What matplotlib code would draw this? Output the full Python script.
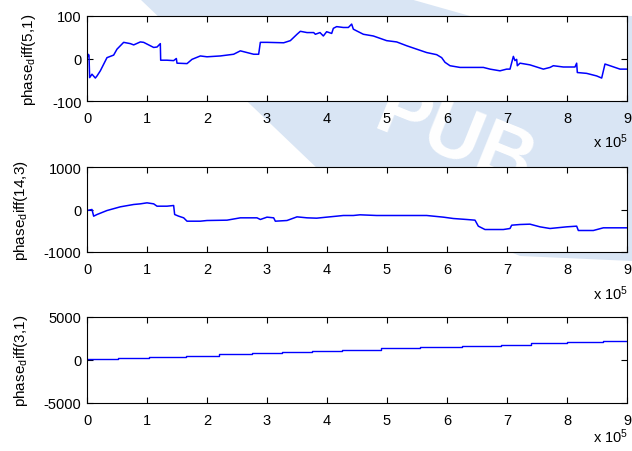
import matplotlib
matplotlib.use("Agg")
import matplotlib.pyplot as plt
from matplotlib.patches import Polygon
import numpy as np

plt.rcParams['font.family'] = ['Liberation Sans', 'DejaVu Sans']
plt.rcParams['mathtext.fontset'] = 'custom'
plt.rcParams['mathtext.rm'] = 'Liberation Sans'
plt.rcParams['mathtext.it'] = 'Liberation Sans:italic'

# ---- data (x in units of 1e5 samples) ----
x1 = [0, 0.017, 0.033, 0.044, 0.083, 0.139, 0.167, 0.222, 0.333, 0.444, 0.5, 0.611, 0.722, 0.778,
      0.889, 0.944, 1.111, 1.167, 1.222, 1.228, 1.333, 1.444, 1.489, 1.5, 1.667, 1.75, 1.889, 2.0,
      2.222, 2.444, 2.556, 2.667, 2.778, 2.861, 2.889, 3.0, 3.278, 3.389, 3.5, 3.556, 3.667, 3.778,
      3.806, 3.883, 3.939, 3.994, 4.078, 4.106, 4.161, 4.272, 4.356, 4.411, 4.439, 4.494, 4.606,
      4.772, 4.994, 5.161, 5.328, 5.494, 5.661, 5.828, 5.911, 5.967, 6.05, 6.217, 6.383, 6.606,
      6.717, 6.883, 6.994, 7.05, 7.106, 7.133, 7.161, 7.172, 7.217, 7.383, 7.606, 7.717, 7.772,
      7.939, 8.133, 8.161, 8.172, 8.328, 8.494, 8.578, 8.633, 8.717, 8.883, 8.994]
y1 = [0, 10, 8, -45, -37, -46, -41, -29, 2, 8, 22, 38, 35, 32,
      39, 38, 26, 27, 35, -4, -4, -5, 0, -11, -12, -2, 6, 4,
      6, 10, 18, 14, 10, 10, 38, 38, 37, 42, 57, 64, 61, 61,
      57, 61, 53, 63, 59, 71, 75, 73, 73, 81, 69, 65, 57,
      53, 42, 39, 30, 22, 14, 9, 2, -9, -17, -21, -21, -21,
      -25, -29, -25, -25, 5, -5, -2, -17, -11, -15, -25, -21, -17,
      -20, -20, -11, -33, -35, -41, -46, -13, -17, -25, -25]

x2 = [0, 0.083, 0.111, 0.167, 0.333, 0.556, 0.778, 0.889, 1.0, 1.111, 1.167, 1.333, 1.444, 1.461,
      1.528, 1.611, 1.667, 1.889, 2.0, 2.333, 2.556, 2.833, 2.889, 3.0, 3.111, 3.139, 3.333, 3.5,
      3.667, 3.828, 3.994, 4.161, 4.272, 4.439, 4.55, 4.828, 5.383, 5.661, 5.939, 6.106, 6.328,
      6.467, 6.522, 6.633, 6.939, 7.05, 7.078, 7.217, 7.383, 7.55, 7.717, 7.994, 8.161, 8.189,
      8.439, 8.606, 8.994]
y2 = [-24, 0, -157, -118, -24, 63, 118, 133, 157, 133, 78, 78, 94, -118,
      -157, -196, -275, -275, -259, -251, -196, -196, -235, -180, -196, -275, -259, -173,
      -196, -204, -180, -157, -141, -141, -125, -141, -141, -141, -180, -212, -235,
      -251, -392, -471, -471, -447, -369, -353, -345, -408, -447, -408, -392, -494,
      -494, -431, -431]

x3 = [0, 0.52, 1.03, 1.65, 2.2, 2.75, 3.25, 3.75, 4.25, 4.9, 5.55, 6.25, 6.9, 7.4, 8.0, 8.6, 9.0]
y3 = [80, 230, 380, 520, 660, 800, 940, 1080, 1220, 1360, 1500, 1640, 1780, 1920, 2060, 2200, 2200]

ylabels = [r'phase$_\mathrm{d}$iff(5,1)', r'phase$_\mathrm{d}$iff(14,3)', r'phase$_\mathrm{d}$iff(3,1)']
ylims = [100, 1000, 5000]
xtick_labels = ['0', '1', '2', '3', '4', '5', '6', '7', '8', '9']

W, H = 632, 452
fig = plt.figure(figsize=(W / 100, H / 100), dpi=100)
fig.patch.set_facecolor('white')

# background watermark band
pts = [(140, 0), (410, 0), (470, 17), (632, 17), (632, 262), (520, 257), (320, 172)]
poly = Polygon([(px / W, 1 - py / H) for px, py in pts], closed=True,
               transform=fig.transFigure, facecolor='#d9e5f4', edgecolor='none', zorder=-10)
fig.patches.append(poly)
fig.text(455 / W, 1 - 140 / H, 'PUB', color='white', fontsize=56, fontweight='bold',
         rotation=-22, ha='center', va='center', zorder=-9)

boxes = [(87, 17, 102), (87, 168, 253), (87, 318, 404)]
series = [(x1, y1), (x2, y2), (x3, y3)]
xoff_y = [142, 294, 437]

for i, ((l, t, b), (xs, ys)) in enumerate(zip(boxes, series)):
    ax = fig.add_axes([l / W, 1 - b / H, (627 - l) / W, (b - t) / H])
    ax.set_facecolor('white')
    ax.set_zorder(1)
    xs = np.array(xs) * 1e5
    if i == 2:
        ax.plot(xs, ys, color='#0000ff', lw=1.0, drawstyle='steps-post')
    else:
        ax.plot(xs, ys, color='#0000ff', lw=1.1)
    ax.set_xlim(0, 9e5)
    ax.set_ylim(-ylims[i], ylims[i])
    ax.set_xticks(np.arange(10) * 1e5)
    ax.set_xticklabels(xtick_labels)
    ax.set_yticks([-ylims[i], 0, ylims[i]])
    ax.set_yticklabels([str(-ylims[i]), '0', str(ylims[i])])
    ax.tick_params(direction='in', top=True, right=True, length=4, width=0.8,
                   labelsize=10.5)
    ax.tick_params(axis='x', pad=7)
    ax.tick_params(axis='y', pad=4)
    for s in ax.spines.values():
        s.set_linewidth(0.8)
    ax.set_ylabel(ylabels[i], fontsize=11, labelpad=10)
    fig.text(628 / W, 1 - xoff_y[i] / H, r'x 10$^5$', fontsize=10.5, ha='right', va='center')

fig.savefig('out.png', dpi=100)
